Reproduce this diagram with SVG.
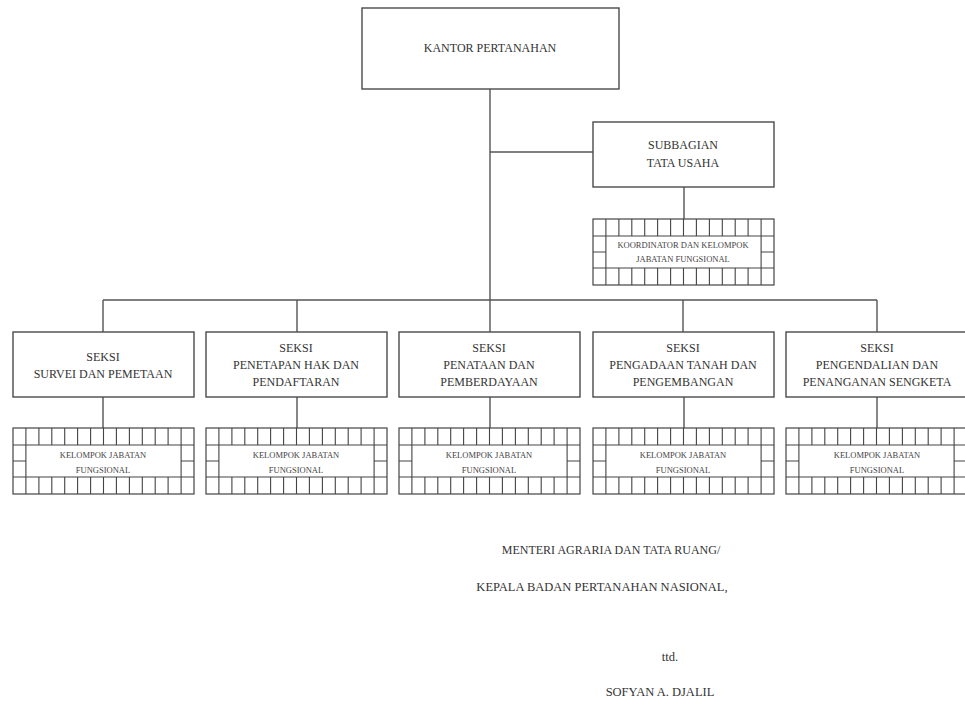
<svg xmlns="http://www.w3.org/2000/svg" xmlns:xlink="http://www.w3.org/1999/xlink" width="965" height="702" viewBox="0 0 965 702">
<style>
.box{fill:#fff;stroke:#4a4a4a;stroke-width:1.4}
.ln{fill:none;stroke:#555;stroke-width:1.4}
.gl{fill:none;stroke:#444;stroke-width:1.1}
.t{font-family:"Liberation Serif","Times New Roman",serif;font-size:12px;fill:#333;text-anchor:middle}
.s{font-family:"Liberation Serif","Times New Roman",serif;font-size:8.5px;fill:#444;text-anchor:middle}
.b{font-family:"Liberation Serif","Times New Roman",serif;font-size:12.5px;fill:#333;text-anchor:middle}
</style>
<defs>
<g id="grid">
<rect x="0" y="0" width="181" height="66" fill="#fff" stroke="#444" stroke-width="1.2"/>
<path class="gl" d="M0 17H181M0 49H181M12.9 0V17M25.9 0V17M38.8 0V17M51.7 0V17M64.6 0V17M77.6 0V17M90.5 0V17M103.4 0V17M116.4 0V17M129.3 0V17M142.2 0V17M155.1 0V17M168.1 0V17M12.9 49V66M25.9 49V66M38.8 49V66M51.7 49V66M64.6 49V66M77.6 49V66M90.5 49V66M103.4 49V66M116.4 49V66M129.3 49V66M142.2 49V66M155.1 49V66M168.1 49V66M12.9 17V49M168.1 17V49M0 33H12.9M168.1 33H181"/>
</g>
</defs>
<g id="connectors">
<path class="ln" d="M490 89V332M490 152H593M103 300H877M103 300V332M297 300V332M683 300V332M877 300V332M684 187V219M103 397V428M297 397V428M490 397V428M684 397V428M877 397V428"/>
</g>
<g id="kantor">
<rect class="box" x="362" y="8" width="257" height="81"/>
<text class="t" x="490" y="52">KANTOR PERTANAHAN</text>
</g>
<g id="subbagian">
<rect class="box" x="593" y="122" width="181" height="65"/>
<text class="t" x="683" y="149">SUBBAGIAN</text>
<text class="t" x="683" y="167">TATA USAHA</text>
</g>
<g id="koordinator">
<use xlink:href="#grid" x="593" y="219"/>
<text class="s" x="683" y="248">KOORDINATOR DAN KELOMPOK</text>
<text class="s" x="683" y="262">JABATAN FUNGSIONAL</text>
</g>
<g id="seksi1">
<rect class="box" x="13" y="332" width="181" height="65"/>
<text class="t" x="103" y="361">SEKSI</text>
<text class="t" x="103" y="378">SURVEI DAN PEMETAAN</text>
</g>
<g id="seksi2">
<rect class="box" x="206" y="332" width="181" height="65"/>
<text class="t" x="296" y="352">SEKSI</text>
<text class="t" x="296" y="369">PENETAPAN HAK DAN</text>
<text class="t" x="296" y="386">PENDAFTARAN</text>
</g>
<g id="seksi3">
<rect class="box" x="399" y="332" width="181" height="65"/>
<text class="t" x="489" y="352">SEKSI</text>
<text class="t" x="489" y="369">PENATAAN DAN</text>
<text class="t" x="489" y="386">PEMBERDAYAAN</text>
</g>
<g id="seksi4">
<rect class="box" x="593" y="332" width="181" height="65"/>
<text class="t" x="683" y="352">SEKSI</text>
<text class="t" x="683" y="369">PENGADAAN TANAH DAN</text>
<text class="t" x="683" y="386">PENGEMBANGAN</text>
</g>
<g id="seksi5">
<rect class="box" x="786" y="332" width="181" height="65"/>
<text class="t" x="877" y="352">SEKSI</text>
<text class="t" x="877" y="369">PENGENDALIAN DAN</text>
<text class="t" x="877" y="386">PENANGANAN SENGKETA</text>
</g>
<g id="jf1">
<use xlink:href="#grid" x="13" y="428"/>
<text class="s" x="103" y="458">KELOMPOK JABATAN</text>
<text class="s" x="103" y="473">FUNGSIONAL</text>
</g>
<g id="jf2">
<use xlink:href="#grid" x="206" y="428"/>
<text class="s" x="296" y="458">KELOMPOK JABATAN</text>
<text class="s" x="296" y="473">FUNGSIONAL</text>
</g>
<g id="jf3">
<use xlink:href="#grid" x="399" y="428"/>
<text class="s" x="489" y="458">KELOMPOK JABATAN</text>
<text class="s" x="489" y="473">FUNGSIONAL</text>
</g>
<g id="jf4">
<use xlink:href="#grid" x="593" y="428"/>
<text class="s" x="683" y="458">KELOMPOK JABATAN</text>
<text class="s" x="683" y="473">FUNGSIONAL</text>
</g>
<g id="jf5">
<use xlink:href="#grid" x="786" y="428"/>
<text class="s" x="877" y="458">KELOMPOK JABATAN</text>
<text class="s" x="877" y="473">FUNGSIONAL</text>
</g>
<g id="signature">
<text class="b" x="611" y="554" style="font-size:12px">MENTERI AGRARIA DAN TATA RUANG/</text>
<text class="b" x="602" y="591">KEPALA BADAN PERTANAHAN NASIONAL,</text>
<text class="b" x="670" y="661">ttd.</text>
<text class="b" x="660" y="696">SOFYAN A. DJALIL</text>
</g>
</svg>
